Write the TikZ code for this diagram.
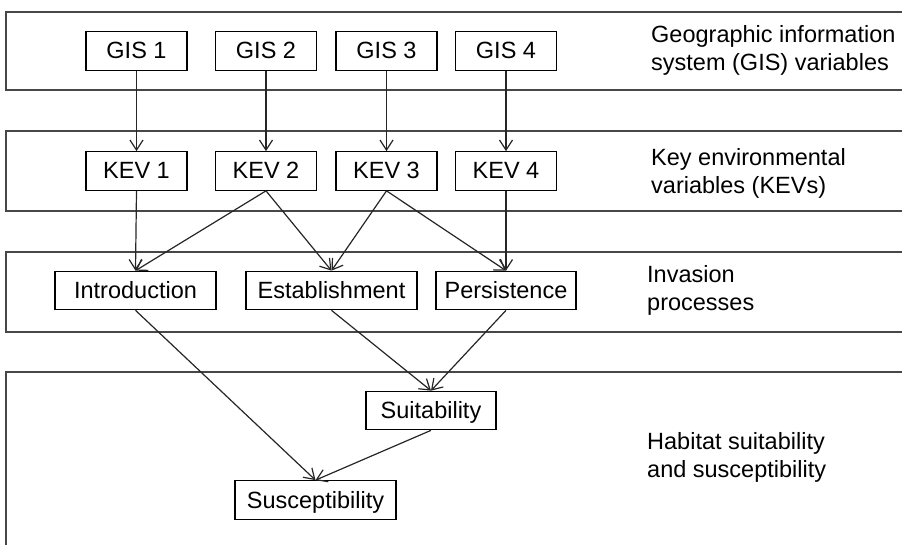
\documentclass[tikz,border=0pt]{standalone}
\usepackage{fontspec}
\setmainfont{Liberation Sans}
\usetikzlibrary{arrows.meta}
\begin{document}
\begin{tikzpicture}[x=1pt,y=-1pt,
  box/.style={draw, line width=1.2pt, inner sep=0pt, minimum height=38.5pt, text height=17pt, text depth=1pt, font=\fontsize{23.5}{28}\selectfont},
  band/.style={draw=black!72, line width=1.4pt},
  link/.style={draw=black!85, line width=1.2pt, -{Straight Barb[length=10pt,width=13pt]}},
  lab/.style={anchor=base west, align=left, inner sep=0pt, font=\fontsize{23.5}{28}\selectfont}]
\useasboundingbox (0,0) rectangle (902,545);
% bands
\draw[band] (902,12) -- (6,12) -- (6,90) -- (902,90);
\draw[band] (902,131) -- (6,131) -- (6,211) -- (902,211);
\draw[band] (902,252) -- (6,252) -- (6,332) -- (902,332);
\draw[band] (902,372) -- (6,372) -- (6,545);
% GIS
\node[box, minimum width=101pt] (g1) at (136.5,51) {GIS 1};
\node[box, minimum width=101pt] (g2) at (266,51) {GIS 2};
\node[box, minimum width=101pt] (g3) at (386.5,51) {GIS 3};
\node[box, minimum width=101pt] (g4) at (506,51) {GIS 4};
% KEV
\node[box, minimum width=101pt] (k1) at (136.5,171) {KEV 1};
\node[box, minimum width=101pt] (k2) at (266,171) {KEV 2};
\node[box, minimum width=101pt] (k3) at (386.5,171) {KEV 3};
\node[box, minimum width=101pt] (k4) at (506,171) {KEV 4};
% processes
\node[box, minimum width=161pt] (intro) at (135.5,290.5) {Introduction};
\node[box, minimum width=171pt] (estab) at (331.5,290.5) {Establishment};
\node[box, minimum width=140pt] (pers) at (506,290.5) {Persistence};
% habitat
\node[box, minimum width=130pt] (suit) at (431,410.5) {Suitability};
\node[box, minimum width=161pt] (susc) at (315.5,500) {Susceptibility};
% labels (anchored at the baseline of the last line)
\node[lab] (l1) at (651,71) {Geographic information\\system (GIS) variables};
\node[lab] (l2) at (651,194) {Key environmental\\variables (KEVs)};
\node[lab] (l3) at (647,310) {Invasion\\processes};
\node[lab] (l4) at (647,477) {Habitat suitability\\and susceptibility};
% connectors
\draw[link] (g1.south) -- (k1.north);
\draw[link] (g2.south) -- (k2.north);
\draw[link] (g3.south) -- (k3.north);
\draw[link] (g4.south) -- (k4.north);
\draw[link] (k1.south) -- (intro.north);
\draw[link] (k2.south) -- (intro.north);
\draw[link] (k2.south) -- (estab.north);
\draw[link] (k3.south) -- (estab.north);
\draw[link] (k3.south) -- (pers.north);
\draw[link] (k4.south) -- (pers.north);
\draw[link] (intro.south) -- (susc.north);
\draw[link] (estab.south) -- (suit.north);
\draw[link] (pers.south) -- (suit.north);
\draw[link] (suit.south) -- (susc.north);
\end{tikzpicture}
\end{document}
